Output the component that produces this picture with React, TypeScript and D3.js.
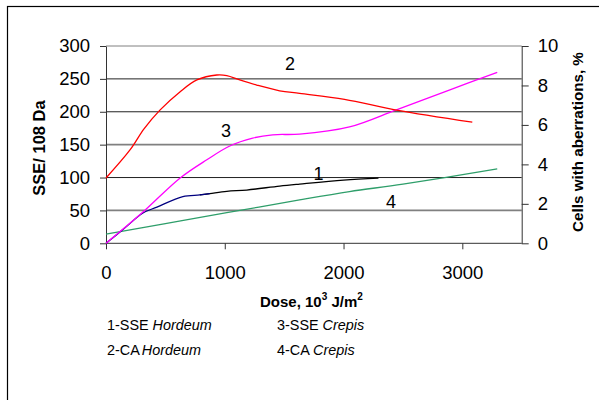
import React, { useEffect, useRef } from "react";
import * as d3 from "d3";

// dose values (10^3 J/m^2) and series
const doseSseHordeum = [0, 150, 311, 429, 647, 790, 874, 1017, 1185, 1462, 1630, 2000, 2294];
const sseHordeum = [0, 22, 46, 55, 71, 73.5, 75.5, 79, 81, 87, 90, 96, 99];

const doseCaHordeum = [0, 202, 320, 454, 622, 765, 933, 1017, 1126, 1269, 1462, 1630, 2008, 2445, 3084];
const caHordeum = [3.31, 4.73, 5.8, 6.75, 7.67, 8.28, 8.53, 8.5, 8.28, 8.02, 7.73, 7.6, 7.3, 6.75, 6.14];

const doseSseCrepis = [0, 311, 622, 849, 1042, 1235, 1403, 1630, 2050, 2445, 2890, 3294];
const sseCrepis = [0, 47.5, 99, 127, 148, 160, 165, 166, 177, 203, 233, 260];

const doseCaCrepis = [0, 500, 1017, 1630, 2050, 2500, 3294];
const caCrepis = [0.47, 1.0, 1.55, 2.2, 2.62, 3.0, 3.77];

const leftTicks = [0, 50, 100, 150, 200, 250, 300];
const rightTicks = [0, 2, 4, 6, 8, 10];
const xTicks = [0, 1000, 2000, 3000];

const App = () => {
  const ref = useRef<SVGSVGElement>(null);

  useEffect(() => {
    const svg = d3.select(ref.current);
    svg.selectAll("*").remove();

    const font = "Arial, 'Liberation Sans', sans-serif";
    const x = d3.scaleLinear().domain([0, 3500]).range([106, 521.7]);
    const yL = d3.scaleLinear().domain([0, 300]).range([243.3, 46]);
    const yR = d3.scaleLinear().domain([0, 10]).range([243.3, 46]);

    // outer frame
    svg.append("rect")
      .attr("x", 7.5).attr("y", 6.5)
      .attr("width", 600).attr("height", 400)
      .attr("fill", "white").attr("stroke", "#000").attr("stroke-width", 1.2);

    // gridlines
    svg.append("g").selectAll("line")
      .data(leftTicks.slice(1))
      .join("line")
      .attr("x1", x(0)).attr("x2", x(3500))
      .attr("y1", d => yL(d)).attr("y2", d => yL(d))
      .attr("stroke", d => (d === 150 || d === 50 || d === 300 ? "#808080" : "#222"))
      .attr("stroke-width", d => (d === 150 || d === 50 ? 1.6 : 1));

    // left axis
    const gl = svg.append("g").attr("transform", `translate(${x(0)},0)`)
      .call(d3.axisLeft(yL).tickValues(leftTicks).tickSize(6).tickSizeOuter(0));
    gl.selectAll("text").attr("font-size", 18.5).attr("font-family", font).attr("fill", "#000").attr("dx", -7);

    // right axis
    const gr = svg.append("g").attr("transform", `translate(${x(3500)},0)`)
      .call(d3.axisRight(yR).tickValues(rightTicks).tickSize(7).tickSizeOuter(0));
    gr.selectAll("text").attr("font-size", 18.5).attr("font-family", font).attr("fill", "#000").attr("dx", 6);

    // x axis
    const gx = svg.append("g").attr("transform", `translate(0,${yL(0)})`)
      .call(d3.axisBottom(x).tickValues(xTicks).tickFormat(d3.format("d")).tickSize(6).tickSizeOuter(0));
    gx.selectAll("text").attr("font-size", 18.5).attr("font-family", font).attr("fill", "#000")
      .attr("dy", null).attr("y", 36);
    gx.select(".domain").attr("d", `M${x(0)},0H${x(3500)}`);

    [gl, gr, gx].forEach(g => {
      g.selectAll("line").attr("stroke", "#333");
      g.select(".domain").attr("stroke", "#333");
    });

    const line = (xs: number[], ys: number[], yScale: d3.ScaleLinear<number, number>) =>
      d3.line<number>().x((_, i) => x(xs[i])).y(d => yScale(d)).curve(d3.curveCatmullRom.alpha(0.5))(ys);

    const draw = (d: string | null, color: string) =>
      svg.append("path").attr("d", d).attr("fill", "none").attr("stroke", color).attr("stroke-width", 1.3);

    draw(line(doseCaCrepis, caCrepis, yR), "#2e9e6a");
    draw(line(doseSseHordeum.slice(5), sseHordeum.slice(5), yL), "#000");
    draw(line(doseSseHordeum.slice(0, 7), sseHordeum.slice(0, 7), yL), "#000080");
    draw(line(doseSseCrepis, sseCrepis, yL), "#ff00ff");
    draw(line(doseCaHordeum, caHordeum, yR), "#ff0000");

    // curve numbers
    const nums = [
      { t: "2", x: 1550, y: 264, right: false },
      { t: "3", x: 1010, y: 161, right: false },
      { t: "1", x: 1790, y: 97, right: false },
      { t: "4", x: 2400, y: 1.8, right: true }
    ];
    nums.forEach(n => {
      svg.append("text")
        .attr("x", x(n.x))
        .attr("y", n.right ? yR(n.y) : yL(n.y))
        .attr("text-anchor", "middle")
        .attr("font-family", font).attr("font-size", 18)
        .text(n.t);
    });

    // axis titles
    svg.append("text")
      .attr("transform", `translate(45,148) rotate(-90)`)
      .attr("text-anchor", "middle")
      .attr("font-family", font).attr("font-size", 16.5).attr("font-weight", "bold")
      .text("SSE/ 108 Da");

    svg.append("text")
      .attr("transform", `translate(583,142) rotate(-90)`)
      .attr("text-anchor", "middle")
      .attr("font-family", font).attr("font-size", 15.2).attr("font-weight", "bold")
      .text("Cells with aberrations, %");

    const xt = svg.append("text")
      .attr("x", 260).attr("y", 307)
      .attr("font-family", font).attr("font-size", 15).attr("font-weight", "bold");
    xt.append("tspan").text("Dose, 10");
    xt.append("tspan").attr("font-size", 10).attr("dy", -7).text("3");
    xt.append("tspan").attr("dy", 7).text(" J/m");
    xt.append("tspan").attr("font-size", 10).attr("dy", -7).text("2");

    // legend
    const legend = [
      { n: "1-SSE ", s: "Hordeum", x: 107, y: 330 },
      { n: "3-SSE ", s: "Crepis", x: 277, y: 330 },
      { n: "2-CA", s: "Hordeum", x: 107, y: 355 },
      { n: "4-CA ", s: "Crepis", x: 277, y: 355 }
    ];
    legend.forEach(l => {
      const t = svg.append("text")
        .attr("x", l.x).attr("y", l.y)
        .attr("font-family", font).attr("font-size", 14.4);
      t.append("tspan").text(l.n);
      t.append("tspan").attr("font-style", "italic").attr("dx", l.n.endsWith(" ") ? 0 : 2).text(l.s);
    });
  }, []);

  return (
    <svg
      ref={ref}
      width={599}
      height={400}
      style={{ position: "absolute", left: 0, top: 0, background: "white" }}
    />
  );
};

export default App;
